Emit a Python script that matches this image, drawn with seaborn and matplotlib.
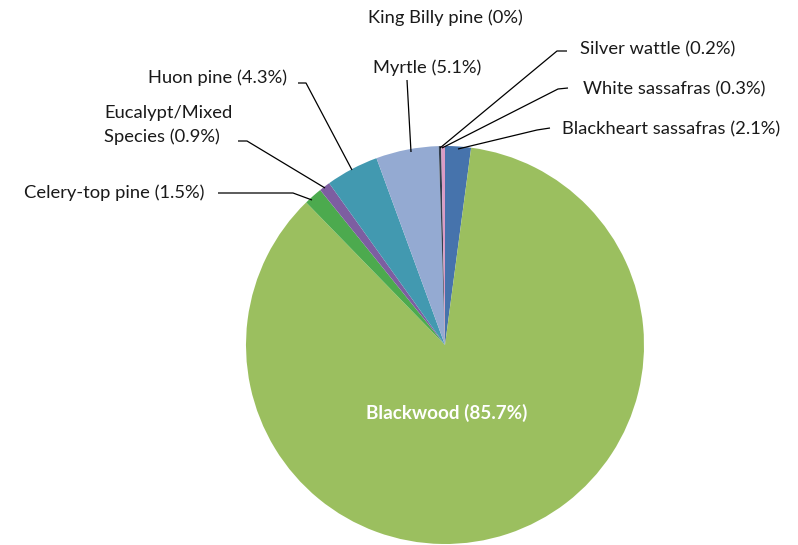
import matplotlib
matplotlib.use("Agg")
import matplotlib.pyplot as plt
import seaborn as sns

# Timber species share of harvest volume
species = ["Blackheart sassafras", "Blackwood", "Celery-top pine",
           "Eucalypt/Mixed\nSpecies", "Huon pine", "King Billy pine",
           "Myrtle", "Silver wattle", "White sassafras"]
shares = [2.1, 85.7, 1.5, 0.9, 4.3, 0.0, 5.1, 0.2, 0.3]
pct_labels = ["2.1%", "85.7%", "1.5%", "0.9%", "4.3%", "0%", "5.1%", "0.2%", "0.3%"]
colors = ["#4673AC", "#9BBF5F", "#4CAA4E", "#7D5EA1", "#4299B0",
          "#7F7F7F", "#94AAD2", "#33404F", "#DA9CC6"]

sns.set_theme(style="white")
plt.rcParams["font.family"] = ["Lato", "DejaVu Sans"]

W, H = 798, 545
fig = plt.figure(figsize=(W / 100, H / 100), dpi=100)
ax = fig.add_axes([0, 0, 1, 1])

cx, cy, r = 445, H - 345, 199
ax.pie(shares, colors=colors, startangle=90, counterclock=False,
       center=(cx, cy), radius=r, frame=True,
       wedgeprops=dict(linewidth=0))
ax.set_xlim(0, W)
ax.set_ylim(0, H)
ax.set_aspect("equal")
ax.axis("off")


def Y(y):
    return H - y


fs = 13.2
lab = {s: f"{s} ({p})" for s, p in zip(species, pct_labels)}

# Blackwood label inside the slice
ax.text(447, Y(413), lab["Blackwood"], color="white", fontsize=13.6,
        fontweight="bold", ha="center", va="center")

# outside labels: (text, x, y, ha, leader polyline in pixels)
outside = [
    ("King Billy pine", 445, 18, "center", None),
    ("Myrtle", 427, 68, "center", [(407, 80), (411, 152)]),
    ("Huon pine", 287, 78, "right", [(298, 83), (306, 83), (352, 170)]),
    ("Eucalypt/Mixed\nSpecies", 104, 125, "left", [(238, 141), (247, 141), (325, 188)]),
    ("Celery-top pine", 205, 193, "right", [(218, 193), (293, 193), (312, 200)]),
    ("Silver wattle", 580, 49, "left", [(567, 51), (557, 51), (440, 148)]),
    ("White sassafras", 583, 89, "left", [(568, 88), (558, 89), (442, 148)]),
    ("Blackheart sassafras", 562, 129, "left", [(550, 128), (537, 130), (458, 149)]),
]
for name, x, y, ha, pts in outside:
    ax.text(x, Y(y), lab[name], fontsize=fs, ha=ha, va="center",
            color="#1a1a1a", linespacing=1.55)
    if pts:
        ax.plot([p[0] for p in pts], [Y(p[1]) for p in pts],
                color="black", lw=0.9, solid_capstyle="butt")

fig.savefig("out.png", dpi=100)
